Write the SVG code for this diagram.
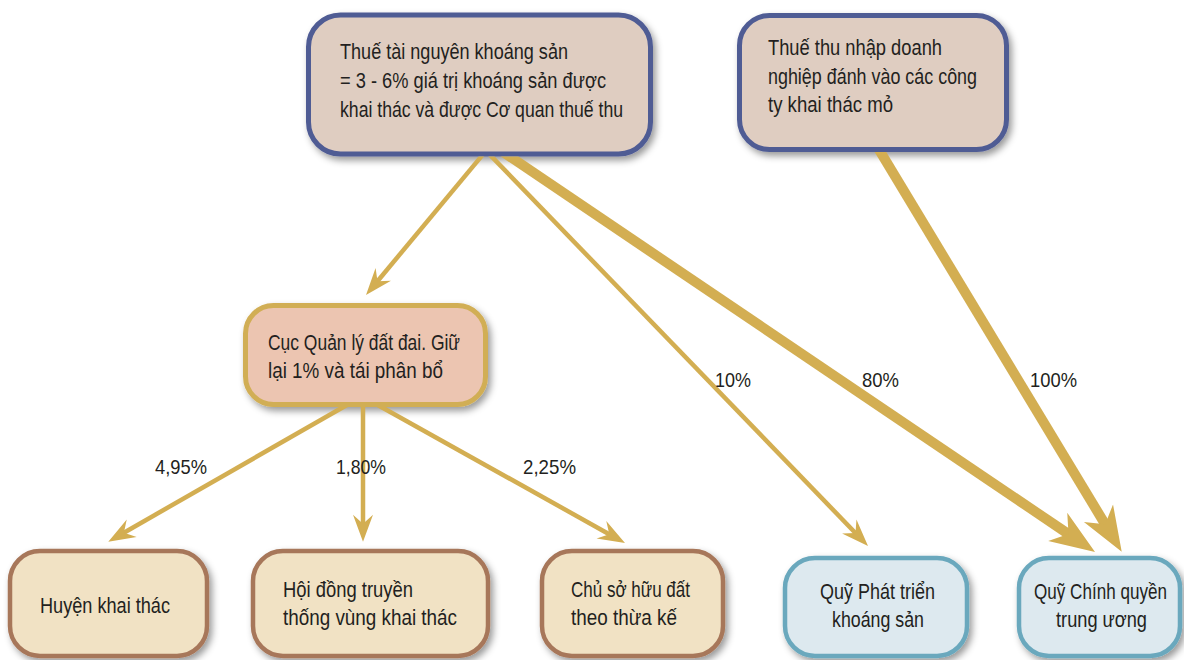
<svg xmlns="http://www.w3.org/2000/svg" width="1184" height="660" viewBox="0 0 1184 660">
<style>
  text { font-family: 'Liberation Sans Narrow', 'Liberation Sans', Arial, sans-serif; fill: #231f20; }
  .t { font-size: 22px; }
  .lbl { font-size: 21px; }
  .box { stroke-width: 5; filter: url(#sh); }
  .top { fill: #dfcdc1; stroke: #4f5b94; }
  .mid { fill: #ecc5b1; stroke: #d1ae55; }
  .brn { fill: #f1e2c4; stroke: #a7775a; stroke-width: 4.5; }
  .blu { fill: #dde9ef; stroke: #6aa8bd; stroke-width: 4.5; }
  .ln { fill: none; stroke: #d3ae52; }
  .thin { stroke-width: 4.5; marker-end: url(#ah); }
  .thick { stroke-width: 10; marker-end: url(#ahT); }
</style>
<defs>
  <filter id="sh" x="-10%" y="-10%" width="125%" height="130%">
    <feDropShadow dx="3" dy="4" stdDeviation="3.5" flood-color="#000" flood-opacity="0.4"/>
  </filter>
  <marker id="ah" markerUnits="userSpaceOnUse" orient="auto" overflow="visible" refX="0" refY="0" markerWidth="1" markerHeight="1">
    <path d="M-12,-10 L15,0 L-12,10 L-3,0 Z" fill="#d3ae52"/>
  </marker>
  <marker id="ahT" markerUnits="userSpaceOnUse" orient="auto" overflow="visible" refX="0" refY="0" markerWidth="1" markerHeight="1">
    <path d="M-20,-17 L25,0 L-20,17 L-7,0 Z" fill="#d3ae52"/>
  </marker>
  <mask id="m" maskUnits="userSpaceOnUse" x="0" y="0" width="1184" height="660">
    <rect x="0" y="0" width="1184" height="660" fill="#fff"/>
    <rect x="306" y="12.5" width="347" height="144" rx="34" fill="#000"/>
    <rect x="737" y="13" width="272" height="139" rx="32" fill="#000"/>
    <rect x="243" y="303" width="245" height="104" rx="30" fill="#000"/>
  </mask>
</defs>

<g id="n-thue-tai-nguyen">
  <rect class="box top" x="308.5" y="15" width="342" height="139" rx="32"/>
  <text class="t" x="340" y="59" textLength="228" lengthAdjust="spacingAndGlyphs">Thuế tài nguyên khoáng sản</text>
  <text class="t" x="340" y="88" textLength="266" lengthAdjust="spacingAndGlyphs">= 3 - 6% giá trị khoáng sản được</text>
  <text class="t" x="340" y="117" textLength="283" lengthAdjust="spacingAndGlyphs">khai thác và được Cơ quan thuế thu</text>
</g>
<g id="n-thue-tndn">
  <rect class="box top" x="739.5" y="15.5" width="267" height="134" rx="30"/>
  <text class="t" x="768" y="55" textLength="174" lengthAdjust="spacingAndGlyphs">Thuế thu nhập doanh</text>
  <text class="t" x="768" y="84" textLength="209" lengthAdjust="spacingAndGlyphs">nghiệp đánh vào các công</text>
  <text class="t" x="768" y="112" textLength="125" lengthAdjust="spacingAndGlyphs">ty khai thác mỏ</text>
</g>
<g id="n-cuc-quan-ly">
  <rect class="box mid" x="245.5" y="305.5" width="240" height="99" rx="28"/>
  <text class="t" x="268" y="350" textLength="192" lengthAdjust="spacingAndGlyphs">Cục Quản lý đất đai. Giữ</text>
  <text class="t" x="268" y="378" textLength="175" lengthAdjust="spacingAndGlyphs">lại 1% và tái phân bổ</text>
</g>
<g id="n-huyen">
  <rect class="box brn" x="10" y="551" width="197" height="105" rx="30"/>
  <text class="t" x="40" y="613" textLength="130" lengthAdjust="spacingAndGlyphs">Huyện khai thác</text>
</g>
<g id="n-hoi-dong">
  <rect class="box brn" x="253" y="551" width="235" height="105" rx="30"/>
  <text class="t" x="283" y="597" textLength="130" lengthAdjust="spacingAndGlyphs">Hội đồng truyền</text>
  <text class="t" x="283" y="625" textLength="174" lengthAdjust="spacingAndGlyphs">thống vùng khai thác</text>
</g>
<g id="n-chu-so-huu">
  <rect class="box brn" x="542" y="551" width="181" height="105" rx="30"/>
  <text class="t" x="571" y="597" textLength="119" lengthAdjust="spacingAndGlyphs">Chủ sở hữu đất</text>
  <text class="t" x="571" y="625" textLength="106" lengthAdjust="spacingAndGlyphs">theo thừa kế</text>
</g>
<g id="n-quy-phat-trien">
  <rect class="box blu" x="785" y="558" width="182" height="98" rx="30"/>
  <text class="t" x="820" y="599" textLength="115" lengthAdjust="spacingAndGlyphs">Quỹ Phát triển</text>
  <text class="t" x="832" y="627" textLength="92" lengthAdjust="spacingAndGlyphs">khoáng sản</text>
</g>
<g id="n-quy-chinh-quyen">
  <rect class="box blu" x="1019" y="558" width="161" height="98" rx="30"/>
  <text class="t" transform="translate(1034,599) scale(0.782,1)" x="0" y="0" textLength="170" lengthAdjust="spacingAndGlyphs">Quỹ Chính quyền</text>
  <text class="t" x="1056" y="627" textLength="91" lengthAdjust="spacingAndGlyphs">trung ương</text>
</g>

<g id="connectors" mask="url(#m)">
  <path class="ln thin" d="M492.8,142.6 L375.6,283.5"/>
  <path class="ln thin" d="M479.1,143.6 L857.6,535.2"/>
  <path class="ln thick" d="M495.4,146.8 L1074.3,538"/>
  <path class="ln thick" d="M870.7,135.9 L1108.8,530.3"/>
  <path class="ln thin" d="M353,401.5 L121.3,534.2"/>
  <path class="ln thin" d="M363,395 L363,526.7"/>
  <path class="ln thin" d="M371.9,401.7 L611.9,535.7"/>
</g>

<g id="labels">
  <text class="lbl" x="155" y="474" textLength="52" lengthAdjust="spacingAndGlyphs">4,95%</text>
  <text class="lbl" x="336" y="474" textLength="50" lengthAdjust="spacingAndGlyphs">1,80%</text>
  <text class="lbl" x="523" y="474" textLength="53" lengthAdjust="spacingAndGlyphs">2,25%</text>
  <text class="lbl" x="715" y="387" textLength="36" lengthAdjust="spacingAndGlyphs">10%</text>
  <text class="lbl" x="862" y="387" textLength="37" lengthAdjust="spacingAndGlyphs">80%</text>
  <text class="lbl" x="1030" y="387" textLength="47" lengthAdjust="spacingAndGlyphs">100%</text>
</g>
</svg>
